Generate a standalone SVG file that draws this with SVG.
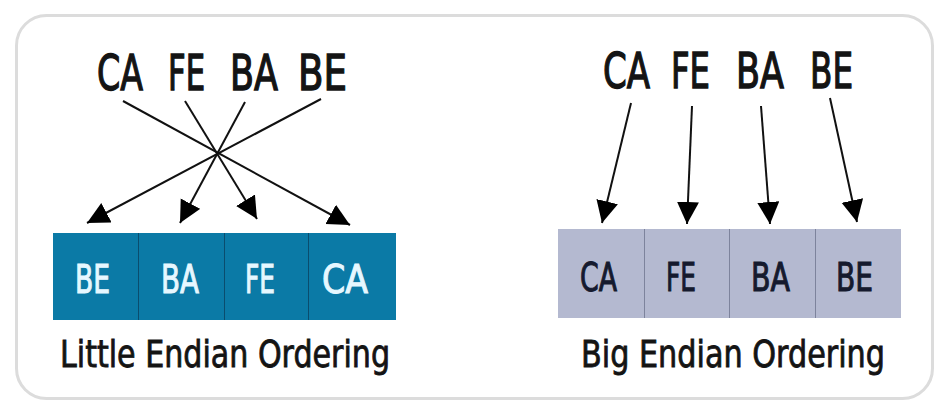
<svg xmlns="http://www.w3.org/2000/svg" width="936" height="403" viewBox="0 0 936 403">
<style>
.t{font-family:"DejaVu Sans Condensed","DejaVu Sans","Liberation Sans",sans-serif;}
.top{font-size:49px;fill:#141414;stroke:#141414;stroke-width:1.3;}
.cl{font-size:39px;fill:#e6f7ff;stroke:#e6f7ff;stroke-width:1;}
.cb{font-size:39px;fill:#151a2e;stroke:#151a2e;stroke-width:1;}
.lab{font-size:38px;fill:#141414;stroke:#141414;stroke-width:0.8;}
.ln{stroke:#111;stroke-width:2;fill:none;marker-end:url(#ah);}
.div{stroke:#0a4d6e;stroke-width:1;}
.divb{stroke:#7d839c;stroke-width:1;}
</style>
<defs>
<marker id="ah" markerUnits="userSpaceOnUse" markerWidth="26" markerHeight="24" refX="22" refY="11" orient="auto">
<path d="M0,0 L22,11 L0,22 Z" fill="#000"/>
</marker>
</defs>
<rect x="0" y="0" width="936" height="403" fill="#fff"/>
<rect id="frame" x="16.5" y="15.5" width="916" height="383" rx="30" fill="#fff" stroke="#dcdcdc" stroke-width="3"/>

<g id="little-top-labels" class="t top">
<text x="97" y="90" textLength="46" lengthAdjust="spacingAndGlyphs">CA</text>
<text x="168" y="90" textLength="37" lengthAdjust="spacingAndGlyphs">FE</text>
<text x="230" y="90" textLength="48" lengthAdjust="spacingAndGlyphs">BA</text>
<text x="298" y="90" textLength="49" lengthAdjust="spacingAndGlyphs">BE</text>
</g>

<g id="big-top-labels" class="t top">
<text x="603" y="88" textLength="47" lengthAdjust="spacingAndGlyphs">CA</text>
<text x="671" y="88" textLength="39" lengthAdjust="spacingAndGlyphs">FE</text>
<text x="736" y="88" textLength="48" lengthAdjust="spacingAndGlyphs">BA</text>
<text x="810" y="88" textLength="43" lengthAdjust="spacingAndGlyphs">BE</text>
</g>

<g id="connectors">
<line class="ln" x1="123" y1="101" x2="350" y2="225"/>
<line class="ln" x1="185" y1="101" x2="257" y2="219"/>
<line class="ln" x1="245" y1="102" x2="180" y2="223"/>
<line class="ln" x1="321" y1="99" x2="87" y2="223"/>
<line class="ln" x1="631" y1="103" x2="602" y2="223"/>
<line class="ln" x1="692" y1="106" x2="687" y2="224"/>
<line class="ln" x1="761" y1="106" x2="770" y2="224"/>
<line class="ln" x1="830" y1="98" x2="857" y2="222"/>
</g>

<g id="little-endian">
<rect x="53" y="233" width="343" height="87" fill="#0b7aa6"/>
<line class="div" x1="138.5" y1="233" x2="138.5" y2="320"/>
<line class="div" x1="224.5" y1="233" x2="224.5" y2="320"/>
<line class="div" x1="308.5" y1="233" x2="308.5" y2="320"/>
<g class="t cl">
<text x="75" y="293" textLength="35" lengthAdjust="spacingAndGlyphs">BE</text>
<text x="161" y="293" textLength="38" lengthAdjust="spacingAndGlyphs">BA</text>
<text x="245" y="293" textLength="30" lengthAdjust="spacingAndGlyphs">FE</text>
<text x="322" y="293" textLength="46" lengthAdjust="spacingAndGlyphs">CA</text>
</g>
<text class="t lab" x="60" y="367" textLength="330" lengthAdjust="spacingAndGlyphs">Little Endian Ordering</text>
</g>

<g id="big-endian">
<rect x="558" y="229" width="343" height="89" fill="#b4b9d0"/>
<line class="divb" x1="644.5" y1="229" x2="644.5" y2="318"/>
<line class="divb" x1="729.5" y1="229" x2="729.5" y2="318"/>
<line class="divb" x1="815.5" y1="229" x2="815.5" y2="318"/>
<g class="t cb">
<text x="580" y="291" textLength="37" lengthAdjust="spacingAndGlyphs">CA</text>
<text x="666" y="291" textLength="30" lengthAdjust="spacingAndGlyphs">FE</text>
<text x="751" y="291" textLength="39" lengthAdjust="spacingAndGlyphs">BA</text>
<text x="836" y="291" textLength="37" lengthAdjust="spacingAndGlyphs">BE</text>
</g>
<text class="t lab" x="581" y="367" textLength="304" lengthAdjust="spacingAndGlyphs">Big Endian Ordering</text>
</g>
</svg>
